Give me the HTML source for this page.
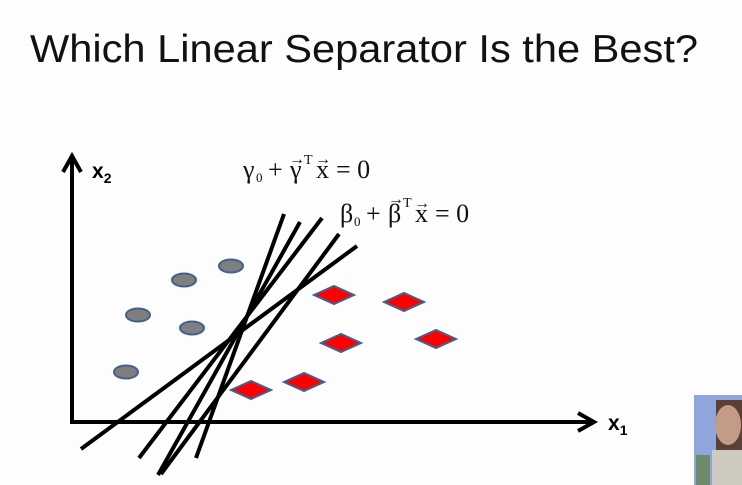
<!DOCTYPE html>
<html><head><meta charset="utf-8"><style>
html,body{margin:0;padding:0;background:#fff;width:742px;height:485px;overflow:hidden}
svg{display:block}
</style></head><body>
<svg id="chart" width="742" height="485" viewBox="0 0 742 485">
<rect width="742" height="485" fill="#fdfdfd"/>
<text x="30" y="62" font-family="Liberation Sans, sans-serif" font-size="39" fill="#111" textLength="668" lengthAdjust="spacingAndGlyphs">Which Linear Separator Is the Best?</text>
<g id="axes">
<line x1="72" y1="422" x2="72" y2="160" stroke="#000" stroke-width="4"/>
<path d="M63,172 L72,156 L81,172" fill="none" stroke="#000" stroke-width="4"/>
<line x1="70" y1="422" x2="590" y2="422" stroke="#000" stroke-width="4"/>
<path d="M578,413 L594,422 L578,431" fill="none" stroke="#000" stroke-width="4"/>
<text x="92" y="178" font-family="Liberation Sans, sans-serif" font-weight="bold" font-size="21">x<tspan font-size="14" dy="5">2</tspan></text>
<text x="608" y="430" font-family="Liberation Sans, sans-serif" font-weight="bold" font-size="21">x<tspan font-size="14" dy="5">1</tspan></text>
</g>
<g id="marks"></g>
<g font-family="Liberation Serif, serif" fill="#111">
<text x="243" y="178" font-size="26">γ</text>
<text x="256" y="182" font-size="13">0</text>
<text x="268" y="178" font-size="26">+</text>
<text x="290" y="178" font-size="26">γ</text>
<text x="289" y="164" font-size="16">→</text>
<text x="304" y="164" font-size="14">T</text>
<text x="316" y="178" font-size="26">x</text>
<text x="315" y="164" font-size="16">→</text>
<text x="336" y="178" font-size="26">= 0</text>
</g>
<g font-family="Liberation Serif, serif" fill="#111">
<text x="340" y="222" font-size="26">β</text>
<text x="354" y="226" font-size="13">0</text>
<text x="366" y="222" font-size="26">+</text>
<text x="388" y="222" font-size="26">β</text>
<text x="388" y="204" font-size="16">→</text>
<text x="403" y="207" font-size="14">T</text>
<text x="415" y="222" font-size="26">x</text>
<text x="414" y="208" font-size="16">→</text>
<text x="435" y="222" font-size="26">= 0</text>
</g>
<g>
<rect x="694" y="395" width="48" height="90" fill="#8ea6dc"/>
<rect x="716" y="400" width="26" height="50" fill="#5a4035"/>
<ellipse cx="728" cy="425" rx="13" ry="20" fill="#c49c86"/>
<rect x="712" y="450" width="30" height="35" fill="#cfcac0"/>
<rect x="696" y="455" width="14" height="30" fill="#6d8a6a"/>
</g>
</svg>
<script>
// origin of plot: data (0,0) at pixel (72,422); 1 unit = 1 px
const circleX = [112, 159, 66, 120, 54];
const circleY = [142, 156, 107, 94, 50];
const diamondX = [262, 332, 269, 364, 179, 232];
const diamondY = [127, 120, 79, 83, 32, 40];
const lineX1 = [212, 228, 250, 267, 285];
const lineY1 = [208, 200, 204, 188, 176];
const lineX2 = [124, 86, 67, 89, 9];
const lineY2 = [-36, -53, -36, -52, -27];
const sx = v => 72 + v;
const sy = v => 422 - v;
const NS = 'http://www.w3.org/2000/svg';
const g = document.getElementById('marks');
for (let i = 0; i < lineX1.length; i++) {
  const l = document.createElementNS(NS, 'line');
  l.setAttribute('x1', sx(lineX1[i])); l.setAttribute('y1', sy(lineY1[i]));
  l.setAttribute('x2', sx(lineX2[i])); l.setAttribute('y2', sy(lineY2[i]));
  l.setAttribute('stroke', '#000'); l.setAttribute('stroke-width', '4');
  
  
  g.appendChild(l);
}
for (let i = 0; i < circleX.length; i++) {
  const e = document.createElementNS(NS, 'ellipse');
  e.setAttribute('cx', sx(circleX[i])); e.setAttribute('cy', sy(circleY[i]));
  e.setAttribute('rx', 12); e.setAttribute('ry', 6.5);
  e.setAttribute('fill', '#7f7f7f'); e.setAttribute('stroke', '#41618f'); e.setAttribute('stroke-width', '2');
  
  
  g.appendChild(e);
}
for (let i = 0; i < diamondX.length; i++) {
  const cx = sx(diamondX[i]), cy = sy(diamondY[i]);
  const p = document.createElementNS(NS, 'polygon');
  p.setAttribute('points', `${cx-20},${cy} ${cx},${cy-9} ${cx+20},${cy} ${cx},${cy+9}`);
  p.setAttribute('fill', '#ff0000'); p.setAttribute('stroke', '#41618f'); p.setAttribute('stroke-width', '2');
  
  
  g.appendChild(p);
}
</script>
</body></html>
